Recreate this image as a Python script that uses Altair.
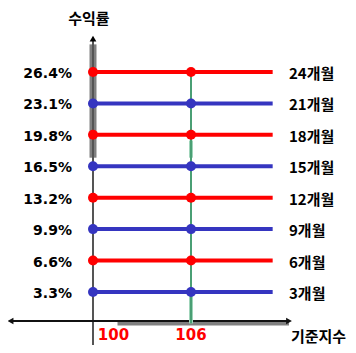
import altair as alt
import pandas as pd

# ---- data ----
returns = [26.4, 23.1, 19.8, 16.5, 13.2, 9.9, 6.6, 3.3]
return_labels = ["26.4%", "23.1%", "19.8%", "16.5%", "13.2%", "9.9%", "6.6%", "3.3%"]
months = ["24개월", "21개월", "18개월", "15개월", "12개월", "9개월", "6개월", "3개월"]
series = ["red", "blue", "red", "blue", "red", "blue", "red", "blue"]
base_level = 100
knock_level = 106
line_end = 111
x_tick_labels = ["100", "106"]
x_tick_pos = [101.25, 106.0]

# axis extents (data units)
y_axis_range = [-2.3, 29.8]
y_axis_band = [17.4, 29.3]
x_axis_range = [94.95, 112.0]
x_axis_band = [101.5, 112.0]
x_axis_y = 0.25

XDOM = [94.796, 115.612]
YDOM = [-2.27, 33.12]
xs = alt.Scale(domain=XDOM, nice=False, zero=False)
ys = alt.Scale(domain=YDOM, nice=False, zero=False)
cs = alt.Scale(domain=["red", "blue"], range=["#ff0000", "#3535c0"])
cdot = alt.Scale(domain=["red", "blue"], range=["#ff1a1a", "#0a0acc"])
KFONT = "Noto Sans CJK KR"
NFONT = "DejaVu Sans"

lines = pd.DataFrame({"y": returns, "x": base_level, "x2": line_end, "s": series,
                      "lab": return_labels, "m": months})
dots = pd.DataFrame({
    "x": [base_level] * len(returns) + [knock_level] * len(returns),
    "y": returns + returns,
    "s": series + series,
})

def X(field="x"):
    return alt.X(f"{field}:Q", scale=xs, axis=None)

def Y(field="y"):
    return alt.Y(f"{field}:Q", scale=ys, axis=None)

# vertical axis band + line
vband = alt.Chart(pd.DataFrame({"x": [base_level], "y": [y_axis_band[0]], "y2": [y_axis_band[1]]})).mark_rule(
    color="#808080", strokeWidth=7).encode(x=X(), y=Y(), y2="y2:Q")
vline = alt.Chart(pd.DataFrame({"x": [base_level], "y": [y_axis_range[0]], "y2": [y_axis_range[1]]})).mark_rule(
    color="#555555", strokeWidth=2).encode(x=X(), y=Y(), y2="y2:Q")
varrow = alt.Chart(pd.DataFrame({"x": [base_level], "y": [y_axis_range[1] + 0.1]})).mark_point(
    shape="triangle-up", filled=True, color="#000000", size=45, opacity=1).encode(x=X(), y=Y())

# horizontal axis
hband = alt.Chart(pd.DataFrame({"x": [x_axis_band[0]], "x2": [x_axis_band[1]], "y": [x_axis_y - 0.25]})).mark_rule(
    color="#808080", strokeWidth=4).encode(x=X(), x2="x2:Q", y=Y())
hline = alt.Chart(pd.DataFrame({"x": [x_axis_range[0]], "x2": [x_axis_range[1]], "y": [x_axis_y]})).mark_rule(
    color="#111111", strokeWidth=2).encode(x=X(), x2="x2:Q", y=Y())
harrows = alt.Chart(pd.DataFrame({"x": [x_axis_range[0], x_axis_range[1]], "y": [x_axis_y, x_axis_y],
                                  "sh": ["triangle-left", "triangle-right"]})).mark_point(
    filled=True, color="#111111", size=45, opacity=1).encode(
    x=X(), y=Y(), shape=alt.Shape("sh:N", scale=alt.Scale(domain=["triangle-left", "triangle-right"],
                                                          range=["triangle-left", "triangle-right"]), legend=None))

# green knock-in line with lighter segments
gband = alt.Chart(pd.DataFrame({"x": [knock_level, knock_level], "y": [0.0, 17.4], "y2": [3.1, 19.2]})).mark_rule(
    color="#9fd4b9", strokeWidth=4).encode(x=X(), y=Y(), y2="y2:Q")
gline = alt.Chart(pd.DataFrame({"x": [knock_level], "y": [0.0], "y2": [returns[0]]})).mark_rule(
    color="#4a9f74", strokeWidth=2).encode(x=X(), y=Y(), y2="y2:Q")

# return lines and dots
rules = alt.Chart(lines).mark_rule(strokeWidth=4).encode(
    x=X(), x2="x2:Q", y=Y(), color=alt.Color("s:N", scale=cs, legend=None))
pts = alt.Chart(dots).mark_circle(size=100, opacity=1).encode(
    x=X(), y=Y(), color=alt.Color("s:N", scale=cdot, legend=None))

# labels
left_lab = alt.Chart(lines).mark_text(align="right", baseline="middle", dy=2, font=NFONT,
                                      fontSize=14, fontWeight="bold", color="#000000").encode(
    x=alt.X("xl:Q", scale=xs, axis=None), y=Y(), text="lab:N").transform_calculate(xl="98.71")
right_lab = alt.Chart(lines).mark_text(align="left", baseline="middle", dy=2, font=KFONT,
                                       fontSize=15, fontWeight="bold", color="#000000").encode(
    x=alt.X("xr:Q", scale=xs, axis=None), y=Y(), text="m:N").transform_calculate(xr="112.0")

xt = alt.Chart(pd.DataFrame({"x": x_tick_pos, "t": x_tick_labels, "y": [-1.74, -1.74]})).mark_text(
    align="center", baseline="alphabetic", font=NFONT, fontSize=15, fontWeight="bold", color="#ff0000").encode(
    x=X(), y=Y(), text="t:N")
xtitle = alt.Chart(pd.DataFrame({"x": [115.5], "y": [-2.0], "t": ["기준지수"]})).mark_text(
    align="right", baseline="alphabetic", font=KFONT, fontSize=15, fontWeight="bold", color="#000000").encode(
    x=X(), y=Y(), text="t:N")
ytitle = alt.Chart(pd.DataFrame({"x": [99.75], "y": [32.75], "t": ["수익률"]})).mark_text(
    align="center", baseline="top", font=KFONT, fontSize=15, fontWeight="bold", color="#000000").encode(
    x=X(), y=Y(), text="t:N")

chart = alt.layer(
    vband, vline, varrow, hband, hline, harrows, gband, gline, rules, pts,
    left_lab, right_lab, xt, xtitle, ytitle
).properties(
    width=340, height=337, padding=0, autosize=alt.AutoSizeParams(type="none")
).configure_view(stroke=None)

chart.save("out.html", embed_options={"renderer": "svg", "actions": False})
